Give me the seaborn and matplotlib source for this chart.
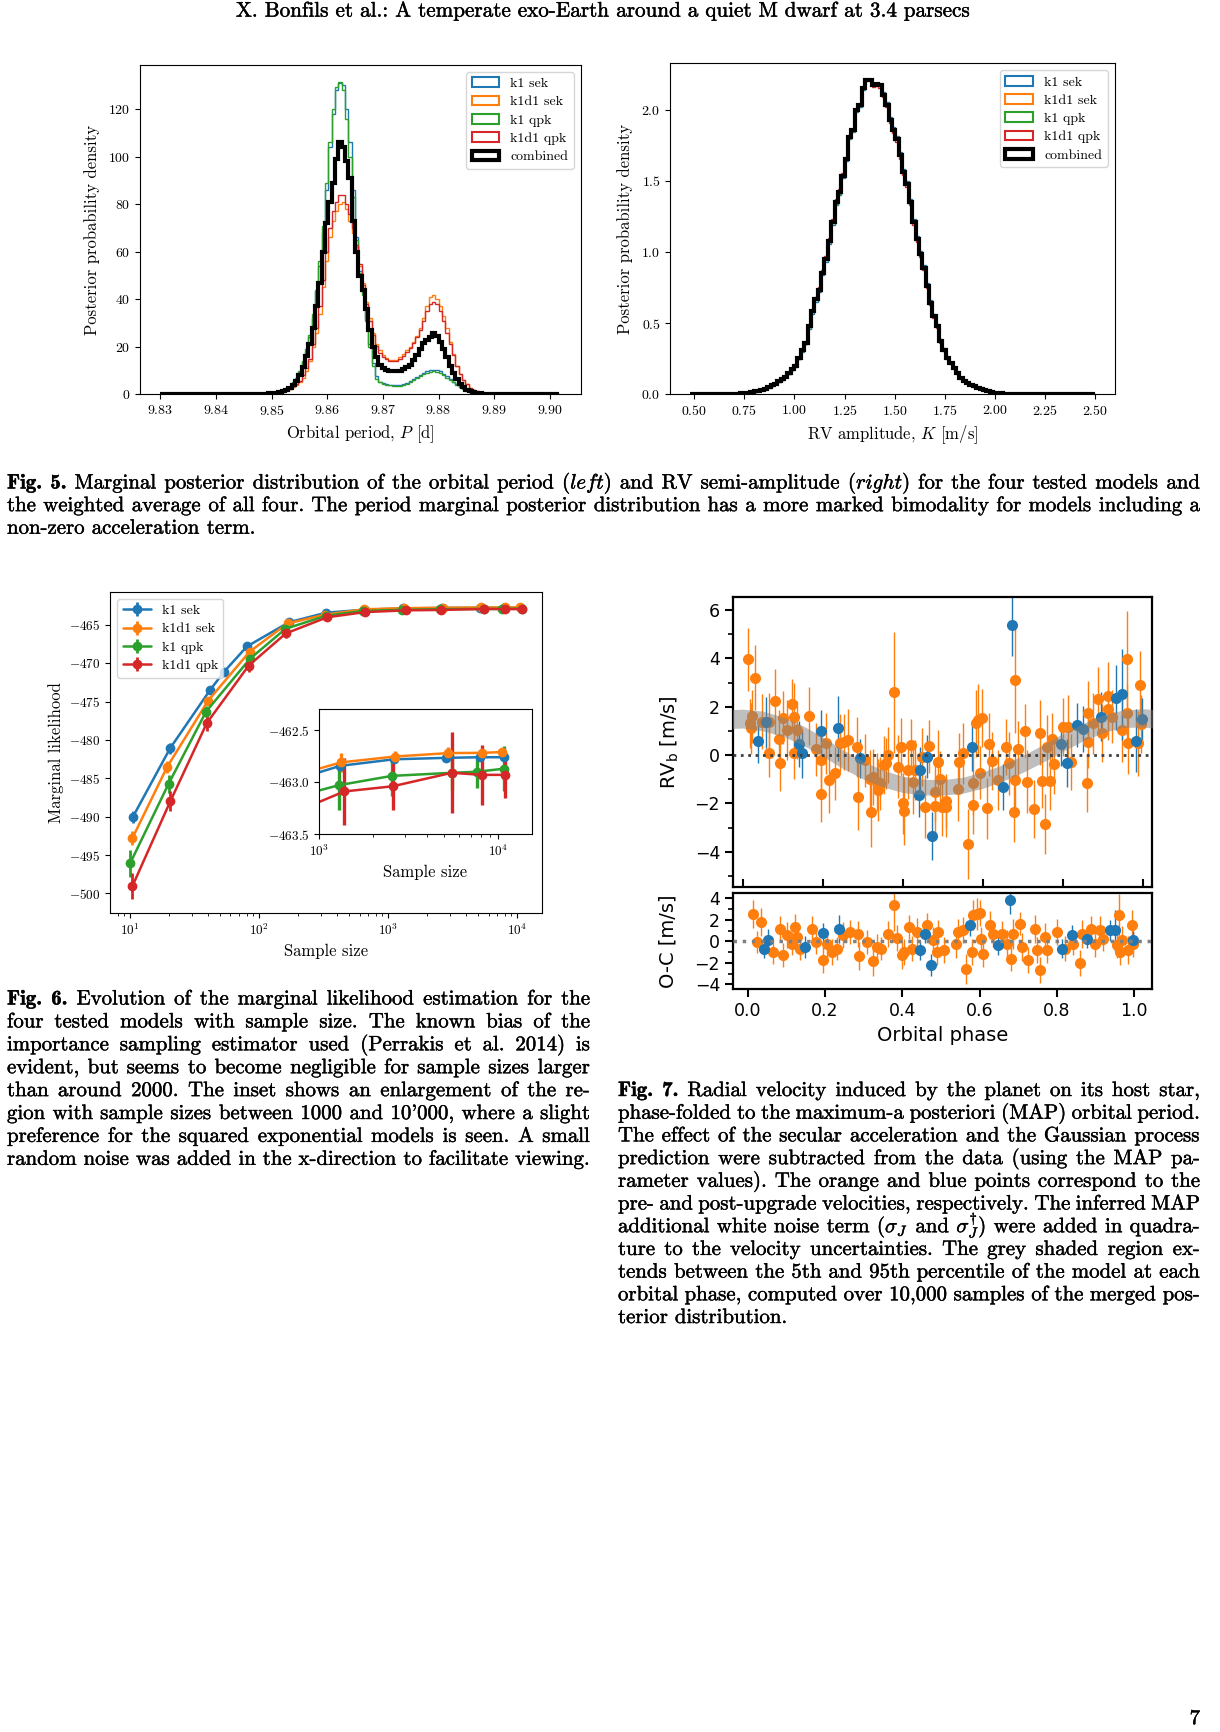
import numpy as np
import matplotlib
matplotlib.use("Agg")
import matplotlib.pyplot as plt
import matplotlib.patheffects as pe
import seaborn as sns
from matplotlib.patches import Patch
from matplotlib.ticker import MultipleLocator, ScalarFormatter

# ---------------- data : Fig. 5 (posterior histograms) ----------------
# orbital period bins: 0.0006 d wide starting at 9.8446, plus flat tails
p_core_start, p_width, p_nbins = 9.8446, 0.0006, 75
p_tail = (9.8300, 9.9017)

p_k1_sek = [0.05, 0.06, 0.08, 0.1, 0.13, 0.17, 0.22, 0.3, 0.4, 0.55, 0.7,
            0.9, 1.3, 2.0, 2.8, 4.5, 6.5, 9.5, 13.5, 18, 24, 32, 43, 54, 68, 86, 104, 118, 128, 131, 130,
            120, 106, 86, 66, 52, 43, 32, 21, 13, 7.5, 5.2, 4.6, 4.2, 4.0, 3.9, 3.9, 4.0, 4.3, 4.8, 5.5,
            6.3, 7.2, 8.1, 9.0, 9.7, 10.2, 10.4, 10.2, 9.6, 8.7, 7.6, 6.5, 5.3, 4.2, 3.2, 2.4, 1.6, 1.1,
            0.8, 0.5, 0.35, 0.25, 0.15, 0.1]
p_k1d1_sek = [0.05, 0.05, 0.06, 0.08, 0.1, 0.1, 0.15, 0.2, 0.3, 0.4, 0.55, 0.8, 1.1, 1.6, 2.2,
              3.0, 4.0, 5.0, 7, 10, 14, 20, 26, 34, 45, 56, 66, 73, 77, 80, 81, 78, 73, 68, 62, 54, 47,
              39, 32, 26, 21, 18.5, 16.5, 15.2, 14.6, 14.4, 14.5, 15.5, 17, 18.5, 20, 22, 24.5, 28, 32,
              37, 41, 42, 40, 37, 33, 28, 22, 17, 12, 8.5, 6, 4.2, 2.8, 1.9, 1.3, 0.9, 0.6, 0.4, 0.25]
p_k1_qpk = [0.05, 0.06, 0.08, 0.1, 0.13, 0.17, 0.22, 0.3, 0.4, 0.55, 0.7,
            1.0, 1.5, 2.2, 3, 5, 7, 10, 14, 19, 25, 34, 44, 56, 71, 89, 106, 120, 129.5, 131.6, 128,
            116, 100, 83, 65, 51, 42, 31, 20, 12, 6.5, 5, 4.5, 4.0, 3.8, 3.6, 3.6, 3.7, 4.0, 4.5, 5.2,
            6.0, 6.8, 7.6, 8.4, 9.0, 9.5, 9.6, 9.4, 8.8, 8.0, 7.0, 6.0, 5.0, 4.0, 3.0, 2.2, 1.5, 1.0,
            0.7, 0.5, 0.35, 0.25, 0.15, 0.1]
p_k1d1_qpk = [0.05, 0.05, 0.06, 0.08, 0.1, 0.1, 0.15, 0.2, 0.3, 0.4, 0.6, 0.9, 1.3, 1.8,
              2.4, 3.3, 4.4, 5.8, 8, 11, 15, 21, 28, 37, 48, 60, 70, 77, 81, 84, 84, 80, 76, 70, 63, 55,
              46, 38, 31, 25, 20.5, 17.5, 15.8, 14.8, 14.2, 14.0, 14.2, 15.0, 16.2, 17.8, 19.5, 21.5,
              24, 27, 31, 35, 38, 39, 38, 35, 31, 26, 21, 16.5, 12, 8.5, 6, 4.2, 2.8, 1.9, 1.3, 0.9,
              0.6, 0.4, 0.25]
p_combined = [0.05, 0.06, 0.08, 0.1, 0.13, 0.17, 0.22, 0.3, 0.4, 0.5, 0.65,
              0.8, 1.2, 1.8, 2.6, 4.0, 5.5, 8, 11.5, 16, 21, 28, 37, 47, 60, 72, 81, 89, 99, 106, 104,
              98, 91, 73, 60, 50, 44, 36, 27, 20, 15.5, 12.5, 11, 10.3, 9.9, 9.8, 9.8, 10.0, 10.5, 11.3,
              12.5, 14.5, 16.5, 19, 21.5, 23, 24, 26, 24.5, 22, 19, 15.5, 12, 9, 6.5, 4.5, 3.0, 2.0,
              1.3, 0.9, 0.6, 0.4, 0.3, 0.2, 0.1]

# RV amplitude bins: 0.0168 m/s wide starting at 0.6796, plus flat tails
k_core_start, k_width, k_nbins = 0.6796, 0.0168, 89
k_tail = (0.4817, 2.4958)

k_k1_sek = [0.001, 0.002, 0.003, 0.005, 0.007, 0.010, 0.013, 0.018, 0.023, 0.030,
            0.038, 0.047, 0.058, 0.071, 0.086, 0.101, 0.120, 0.142, 0.170, 0.195,
            0.245, 0.30, 0.35, 0.46, 0.565, 0.65, 0.72, 0.835, 0.93, 1.055,
            1.19, 1.33, 1.40, 1.52, 1.64, 1.79, 1.845, 1.985, 2.02, 2.14,
            2.20, 2.21, 2.18, 2.19, 2.18, 2.12, 2.05, 1.945, 1.875, 1.815,
            1.70, 1.585, 1.50, 1.37, 1.23, 1.11, 1.005, 0.91, 0.78, 0.66,
            0.565, 0.492, 0.385, 0.325, 0.264, 0.226, 0.192, 0.156, 0.118, 0.099,
            0.083, 0.069, 0.057, 0.047, 0.038, 0.029, 0.021, 0.016, 0.012, 0.009,
            0.007, 0.005, 0.004, 0.003, 0.002, 0.002, 0.001, 0.001, 0.001]
k_k1d1_sek = [0.002, 0.003, 0.004, 0.006, 0.009, 0.012, 0.016, 0.021, 0.026, 0.033,
              0.041, 0.051, 0.063, 0.077, 0.092, 0.107, 0.127, 0.150, 0.180, 0.205,
              0.258, 0.315, 0.365, 0.48, 0.59, 0.67, 0.74, 0.86, 0.955, 1.08,
              1.21, 1.35, 1.42, 1.54, 1.655, 1.80, 1.85, 1.99, 2.03, 2.15,
              2.205, 2.215, 2.175, 2.18, 2.165, 2.095, 2.025, 1.92, 1.85, 1.79,
              1.675, 1.555, 1.47, 1.345, 1.205, 1.085, 0.98, 0.885, 0.758, 0.64,
              0.546, 0.476, 0.37, 0.312, 0.253, 0.217, 0.184, 0.149, 0.112, 0.094,
              0.08, 0.066, 0.055, 0.045, 0.036, 0.028, 0.021, 0.016, 0.012, 0.009,
              0.007, 0.005, 0.004, 0.003, 0.003, 0.002, 0.002, 0.001, 0.001]
k_k1_qpk = [0.001, 0.002, 0.003, 0.005, 0.008, 0.011, 0.014, 0.019, 0.024, 0.031,
            0.039, 0.049, 0.060, 0.073, 0.088, 0.103, 0.122, 0.145, 0.174, 0.198,
            0.25, 0.305, 0.355, 0.47, 0.575, 0.66, 0.73, 0.845, 0.94, 1.07,
            1.20, 1.34, 1.41, 1.53, 1.645, 1.80, 1.85, 1.99, 2.025, 2.145,
            2.205, 2.21, 2.175, 2.185, 2.175, 2.11, 2.04, 1.935, 1.865, 1.805,
            1.69, 1.57, 1.49, 1.36, 1.22, 1.10, 0.995, 0.90, 0.77, 0.65,
            0.556, 0.485, 0.378, 0.318, 0.259, 0.222, 0.188, 0.153, 0.115, 0.097,
            0.081, 0.067, 0.056, 0.046, 0.037, 0.029, 0.021, 0.015, 0.011, 0.008,
            0.006, 0.005, 0.004, 0.003, 0.002, 0.002, 0.001, 0.001, 0.001]
k_k1d1_qpk = [0.002, 0.003, 0.005, 0.007, 0.010, 0.013, 0.017, 0.022, 0.028, 0.035,
              0.043, 0.054, 0.066, 0.080, 0.095, 0.110, 0.131, 0.155, 0.186, 0.212,
              0.265, 0.32, 0.375, 0.495, 0.60, 0.685, 0.755, 0.875, 0.97, 1.10,
              1.23, 1.37, 1.44, 1.555, 1.67, 1.82, 1.865, 2.005, 2.04, 2.155,
              2.21, 2.205, 2.16, 2.17, 2.155, 2.085, 2.015, 1.905, 1.835, 1.775,
              1.655, 1.54, 1.455, 1.33, 1.19, 1.07, 0.965, 0.872, 0.745, 0.628,
              0.535, 0.466, 0.362, 0.305, 0.247, 0.212, 0.18, 0.146, 0.11, 0.092,
              0.078, 0.064, 0.054, 0.044, 0.035, 0.027, 0.02, 0.015, 0.011, 0.008,
              0.006, 0.005, 0.004, 0.003, 0.002, 0.002, 0.001, 0.001, 0.001]
k_combined = [0.001, 0.002, 0.004, 0.006, 0.008, 0.011, 0.015, 0.02, 0.025, 0.032,
              0.04, 0.05, 0.062, 0.075, 0.09, 0.105, 0.125, 0.148, 0.178, 0.20,
              0.255, 0.31, 0.36, 0.477, 0.583, 0.666, 0.736, 0.854, 0.948, 1.077,
              1.207, 1.348, 1.419, 1.536, 1.654, 1.807, 1.854, 1.995, 2.03, 2.148,
              2.207, 2.21, 2.17, 2.18, 2.17, 2.10, 2.03, 1.925, 1.854, 1.795,
              1.678, 1.56, 1.477, 1.348, 1.208, 1.09, 0.984, 0.89, 0.76, 0.642,
              0.548, 0.478, 0.372, 0.313, 0.254, 0.218, 0.185, 0.15, 0.113, 0.095,
              0.08, 0.066, 0.055, 0.045, 0.036, 0.028, 0.02, 0.015, 0.011, 0.008,
              0.006, 0.005, 0.004, 0.003, 0.002, 0.002, 0.001, 0.001, 0.001]

models = ["k1 sek", "k1d1 sek", "k1 qpk", "k1d1 qpk", "combined"]
model_colors = ["#1f77b4", "#ff7f0e", "#2ca02c", "#d62728", "black"]

# ---------------- data : Fig. 6 (marginal likelihood vs sample size) ----------------
ml_k1_sek_n = [10.5, 20.4, 41.6, 53.5, 80.5, 170, 330, 660, 1310, 2610, 5100, 7900, 10760]
ml_k1_sek = [-490.05, -481.1, -473.5, -471.1, -467.8, -464.65, -463.4, -463.0, -462.843, -462.78,
             -462.766, -462.76, -462.76]
ml_k1_sek_err = [0.75, 0.7, 0.4, 0.3, 0.3, 0.2, 0.1, 0.05, 0.03, 0.02, 0.02, 0.015, 0.015]

ml_k1d1_sek_n = [10.4, 19.4, 40.3, 84.5, 166, 325, 650, 1322, 2650, 5260, 8070, 10450]
ml_k1d1_sek = [-492.83, -483.5, -474.86, -468.47, -464.8, -463.65, -462.96, -462.81, -462.753,
               -462.72, -462.718, -462.71]
ml_k1d1_sek_err = [0.9, 0.75, 0.5, 0.4, 0.25, 0.15, 0.1, 0.09, 0.05, 0.06, 0.04, 0.03]

ml_k1_qpk_n = [10.0, 19.9, 38.8, 85, 160, 330, 640, 1282, 2535, 5500, 7590, 10800]
ml_k1_qpk = [-496.1, -485.7, -476.3, -469.4, -465.5, -463.8, -463.17, -463.03, -462.94, -462.91,
             -462.90, -462.87]
ml_k1_qpk_err = [1.8, 1.2, 0.7, 0.5, 0.3, 0.2, 0.15, 0.24, 0.19, 0.17, 0.16, 0.22]

ml_k1d1_qpk_n = [10.4, 20.5, 39.3, 83, 161, 336, 660, 1379, 2570, 5500, 8070, 10880]
ml_k1d1_qpk = [-499.1, -488.0, -477.8, -470.3, -466.1, -464.0, -463.32, -463.09, -463.04, -462.91,
               -462.93, -462.93]
ml_k1d1_qpk_err = [1.7, 1.3, 1.0, 0.8, 0.6, 0.4, 0.25, 0.32, 0.23, 0.39, 0.29, 0.22]

# ---------------- data : Fig. 7 (phase-folded RVs) ----------------
pre_phase = [0.0125, 0.032, 0.018, 0.024, 0.021, 0.067, 0.067, 0.081, 0.093, 0.092, 0.102, 0.110,
             0.1225, 0.128, 0.128, 0.137, 0.0475, 0.167, 0.1825, 0.195, 0.195, 0.2075, 0.217, 0.231,
             0.243, 0.253, 0.264, 0.285, 0.289, 0.306, 0.318, 0.320, 0.327, 0.337, 0.339, 0.343,
             0.353, 0.358, 0.364, 0.379, 0.3875, 0.396, 0.402, 0.403, 0.414, 0.420, 0.427, 0.432,
             0.4475, 0.456, 0.467, 0.481, 0.481, 0.489, 0.493, 0.4975, 0.508, 0.508, 0.539, 0.5417,
             0.552, 0.564, 0.577, 0.5767, 0.583, 0.589, 0.5975, 0.593, 0.610, 0.6158, 0.6225, 0.639,
             0.658, 0.667, 0.681, 0.678, 0.681, 0.6875, 0.706, 0.710, 0.728, 0.743, 0.7475, 0.756,
             0.760, 0.768, 0.7725, 0.778, 0.800, 0.814, 0.820, 0.860, 0.864, 0.864, 0.8767, 0.889,
             0.8975, 0.914, 0.914, 0.9225, 0.9475, 0.960, 0.960, 0.964, 0.9875, 0.993, 0.995]
pre_rv = [3.97, 3.21, 1.31, 1.61, 1.10, 1.35, 0.10, 2.23, -0.34, 0.65, 1.54, 1.03,
          2.10, 1.59, 0.10, 1.03, 1.38, 1.61, 0.23, -0.21, -1.61, 0.48, -1.03, -0.76,
          0.48, 0.55, 0.62, 0.34, -1.72, -0.21, -1.01, -2.34, -0.90, -1.10, -1.45, -1.17,
          -0.41, -0.34, 0.00, 2.59, -0.48, 0.34, -2.00, -2.32, -0.62, 0.41, -1.10, -0.62,
          -0.07, -2.14, 0.37, -1.52, -2.11, -0.28, -0.99, -2.14, -1.90, -2.14, -1.42, -0.28,
          0.07, -3.70, -1.17, -2.07, 1.31, 1.45, 1.52, -0.73, -2.21, 0.45, -0.23, -1.03,
          0.34, -0.34, 3.10, -2.34, -1.03, 0.23, 1.00, -1.10, -2.25, 0.92, -1.06, -2.86,
          0.34, -1.06, 0.66, -0.37, 1.17, 1.17, -0.28, -1.14, 1.75, 0.55, 1.31, 2.30,
          0.90, 2.44, 1.89, 1.59, 1.03, 3.96, 1.75, 0.48, 0.48, 2.90, 1.28]
pre_err = [1.30, 1.35, 1.00, 1.10, 1.05, 1.20, 1.00, 1.35, 1.15, 1.20, 1.10, 1.25,
           1.05, 1.40, 1.10, 1.20, 1.15, 1.20, 1.10, 1.30, 1.15, 1.25, 1.35, 1.10,
           1.20, 1.15, 1.30, 1.25, 1.40, 1.10, 1.20, 1.45, 1.15, 1.20, 1.30, 1.10,
           1.20, 1.05, 1.15, 2.50, 1.30, 1.20, 1.25, 1.40, 1.20, 1.10, 1.35, 1.25,
           1.20, 1.30, 1.10, 1.25, 1.20, 1.30, 1.15, 1.20, 1.10, 1.25, 1.30, 1.20,
           1.25, 1.45, 1.30, 1.20, 1.40, 1.50, 1.20, 1.10, 1.25, 1.30, 1.20, 1.25,
           1.15, 1.30, 2.20, 1.25, 1.40, 1.20, 1.10, 1.30, 1.20, 1.35, 1.15, 1.25,
           1.30, 1.20, 1.10, 1.25, 1.20, 1.30, 1.15, 1.20, 1.30, 1.10, 1.25, 1.35,
           1.20, 1.40, 1.25, 1.10, 1.30, 2.00, 1.20, 1.25, 1.35, 1.40, 1.20]

post_phase = [0.039, 0.058, 0.1475, 0.142, 0.196, 0.2375, 0.293, 0.442, 0.443, 0.460, 0.474, 0.5725,
              0.6517, 0.6725, 0.795, 0.810, 0.8367, 0.8517, 0.895, 0.933, 0.948, 0.983, 0.9975]
post_rv = [0.59, 1.35, 0.07, 0.45, 0.98, 1.10, -0.14, -1.66, -0.62, -0.07, -3.34, 0.34,
           -1.31, 5.38, 0.45, -0.32, 1.24, 1.06, 1.59, 2.37, 2.51, 0.59, 1.48]
post_err = [0.90, 1.05, 1.00, 0.95, 0.90, 1.35, 0.80, 0.90, 0.95, 0.90, 1.00, 1.00,
            0.95, 1.30, 0.90, 1.00, 0.90, 0.95, 1.00, 1.35, 1.90, 1.30, 0.90]

# grey band: 5th and 95th percentile of the model
band_phase = [-0.05, 0.00, 0.05, 0.10, 0.15, 0.20, 0.25, 0.30, 0.35, 0.40, 0.45, 0.50, 0.55,
              0.60, 0.65, 0.70, 0.75, 0.80, 0.85, 0.90, 0.95, 1.00, 1.05]
band_hi = [1.86, 1.90, 1.82, 1.58, 1.22, 0.75, 0.22, -0.25, -0.62, -0.88, -1.00, -1.02, -0.92,
           -0.70, -0.40, -0.02, 0.42, 0.88, 1.30, 1.65, 1.86, 1.92, 1.86]
band_lo = [1.08, 1.12, 1.00, 0.78, 0.42, -0.05, -0.55, -0.98, -1.32, -1.55, -1.65, -1.66, -1.58,
           -1.38, -1.08, -0.72, -0.30, 0.15, 0.58, 0.92, 1.14, 1.16, 1.08]

# residuals (O-C)
pre_oc_phase = [0.015, 0.034, 0.023, 0.066, 0.084, 0.092, 0.101, 0.114, 0.122, 0.127, 0.135, 0.1655,
                0.178, 0.194, 0.206, 0.217, 0.232, 0.247, 0.265, 0.286, 0.289, 0.308, 0.323, 0.335,
                0.344, 0.364, 0.379, 0.387, 0.400, 0.404, 0.418, 0.424, 0.437, 0.465, 0.480, 0.489,
                0.493, 0.508, 0.539, 0.545, 0.556, 0.565, 0.579, 0.584, 0.594, 0.601, 0.603, 0.609,
                0.627, 0.635, 0.657, 0.670, 0.680, 0.687, 0.704, 0.709, 0.726, 0.743, 0.749, 0.756,
                0.769, 0.775, 0.799, 0.821, 0.842, 0.859, 0.864, 0.887, 0.898, 0.911, 0.920, 0.954,
                0.961, 0.963, 0.967, 0.984, 0.993, 0.997]
pre_oc = [2.57, 1.80, -0.06, -0.99, 1.18, -1.30, 0.56, -0.22, 1.33, 0.40, -0.68, 1.18,
          -0.06, -1.77, -0.22, -0.99, -0.68, 0.56, 0.87, 0.71, -1.40, -0.06, -1.83, -0.53,
          -0.68, 0.71, 3.35, 0.34, -1.30, -0.99, 1.33, -0.68, 0.87, 1.49, 0.09, -0.99,
          0.87, -0.84, -0.22, 0.87, 1.02, -2.54, -0.99, 2.42, 2.57, 2.64, 0.25, -1.15,
          1.49, 0.71, 0.71, -0.22, -1.61, 0.71, 1.64, -0.53, -1.77, 1.18, -0.84, -2.70,
          0.40, -0.84, 0.87, -0.68, -0.22, -2.02, 0.71, 1.18, -0.22, 1.02, 0.25, -0.37,
          2.42, -0.99, 0.09, -0.84, 1.49, -0.22]
pre_oc_err = [1.3, 1.3, 1.0, 1.1, 1.2, 1.1, 1.2, 1.1, 1.2, 1.3, 1.1, 1.2,
              1.1, 1.2, 1.3, 1.2, 1.1, 1.2, 1.1, 1.2, 1.3, 1.1, 1.4, 1.2,
              1.1, 1.2, 2.4, 1.2, 1.3, 1.2, 1.1, 1.2, 1.3, 1.1, 1.2, 1.2,
              1.1, 1.2, 1.3, 1.2, 1.2, 1.4, 1.2, 1.4, 1.5, 1.2, 1.1, 1.2,
              1.3, 1.2, 1.2, 1.3, 1.2, 1.4, 1.1, 1.3, 1.2, 1.3, 1.2, 1.2,
              1.3, 1.2, 1.2, 1.2, 1.1, 1.2, 1.3, 1.2, 1.2, 1.3, 1.2, 1.2,
              2.0, 1.2, 1.3, 1.3, 1.4, 1.2]
post_oc_phase = [0.042, 0.053, 0.148, 0.196, 0.237, 0.447, 0.459, 0.473, 0.575, 0.648, 0.678, 0.812,
                 0.838, 0.877, 0.937, 0.950, 0.996]
post_oc = [-0.68, 0.16, -0.53, 0.78, 1.18, -0.84, 0.71, -2.23, 1.49, -0.37, 3.88, -0.68,
           0.56, 0.25, 1.02, 1.02, 0.09]
post_oc_err = [0.9, 1.0, 1.0, 0.9, 1.3, 0.9, 0.9, 1.0, 1.0, 0.9, 1.3, 0.9, 1.0, 0.9, 1.0, 1.9, 0.9]

# ---------------- page text ----------------
header = "X. Bonfils et al.: A temperate exo-Earth around a quiet M dwarf at 3.4 parsecs"
cap5 = [r"Fig. 5. Marginal posterior distribution of the orbital period ($\mathit{left}$) and RV semi-amplitude ($\mathit{right}$) for the four tested models and",
        "the weighted average of all four. The period marginal posterior distribution has a more marked bimodality for models including a",
        "non-zero acceleration term."]
cap6 = ["Fig. 6. Evolution of the marginal likelihood estimation for the",
        "four tested models with sample size. The known bias of the",
        "importance sampling estimator used (Perrakis et al. 2014) is",
        "evident, but seems to become negligible for sample sizes larger",
        "than around 2000. The inset shows an enlargement of the re-",
        "gion with sample sizes between 1000 and 10'000, where a slight",
        "preference for the squared exponential models is seen. A small",
        "random noise was added in the x-direction to facilitate viewing."]
cap7 = ["Fig. 7. Radial velocity induced by the planet on its host star,",
        "phase-folded to the maximum-a posteriori (MAP) orbital period.",
        "The effect of the secular acceleration and the Gaussian process",
        "prediction were subtracted from the data (using the MAP pa-",
        "rameter values). The orange and blue points correspond to the",
        "pre- and post-upgrade velocities, respectively. The inferred MAP",
        r"additional white noise term ($\sigma_J$ and $\sigma_J^{\dagger}$) were added in quadra-",
        "ture to the velocity uncertainties. The grey shaded region ex-",
        "tends between the 5th and 95th percentile of the model at each",
        "orbital phase, computed over 10,000 samples of the merged pos-",
        "terior distribution."]

# ---------------- style ----------------
sns.set_style("ticks", {"axes.edgecolor": "black", "xtick.color": "black", "ytick.color": "black",
                        "text.color": "black", "axes.labelcolor": "black"})
plt.rcParams["font.family"] = ["cmr10"]
plt.rcParams["mathtext.fontset"] = "cm"
plt.rcParams["axes.formatter.use_mathtext"] = True
plt.rcParams["axes.linewidth"] = 0.8

W, H = 1220, 1732
fig = plt.figure(figsize=(W / 100, H / 100), dpi=100)
fig.patch.set_facecolor("white")


def box(x0, y0, x1, y1):
    # pixel box (top-left origin) -> figure fraction
    return [x0 / W, 1 - y1 / H, (x1 - x0) / W, (y1 - y0) / H]


# ---------------- Fig. 5 ----------------
p_edges = np.r_[p_tail[0], np.round(p_core_start + p_width * np.arange(p_nbins + 1), 5), p_tail[1]]
k_edges = np.r_[k_tail[0], np.round(k_core_start + k_width * np.arange(k_nbins + 1), 5), k_tail[1]]

ax5a = fig.add_axes(box(140.3, 65, 581, 394.3))
for vals, c in zip([p_k1_sek, p_k1d1_sek, p_k1_qpk, p_k1d1_qpk, p_combined], model_colors):
    ax5a.stairs(np.r_[0, vals, 0], p_edges, color=c, linewidth=3.0 if c == "black" else 1.0)
ax5a.set_xlim(9.8264, 9.9056)
ax5a.set_ylim(0, 138.6)
ax5a.xaxis.set_major_locator(MultipleLocator(0.01))
ax5a.yaxis.set_major_locator(MultipleLocator(20))
ax5a.ticklabel_format(useOffset=False)
ax5a.set_xlabel(r"Orbital period, $P$ [d]", fontsize=12)
ax5a.set_ylabel("Posterior probability density", fontsize=12, labelpad=6)

ax5b = fig.add_axes(box(670.3, 63.3, 1114.7, 394.3))
for vals, c in zip([k_k1_sek, k_k1d1_sek, k_k1_qpk, k_k1d1_qpk, k_combined], model_colors):
    ax5b.stairs(np.r_[0, vals, 0], k_edges, color=c, linewidth=3.0 if c == "black" else 1.0)
ax5b.set_xlim(0.382, 2.596)
ax5b.set_ylim(0, 2.325)
ax5b.xaxis.set_major_locator(MultipleLocator(0.25))
ax5b.yaxis.set_major_locator(MultipleLocator(0.5))
ax5b.set_xlabel(r"RV amplitude, $K$ [m/s]", fontsize=12)
ax5b.set_ylabel("Posterior probability density", fontsize=12, labelpad=6)

for ax in (ax5a, ax5b):
    ax.tick_params(labelsize=10, length=3.5, width=0.8)
    handles = [Patch(facecolor="none", edgecolor=c, linewidth=3.0 if c == "black" else 1.5)
               for c in model_colors]
    ax.legend(handles, models, loc="upper right", fontsize=10, labelspacing=0.4, frameon=True)

# ---------------- Fig. 6 ----------------
ml_series = [(ml_k1_sek_n, ml_k1_sek, ml_k1_sek_err, "k1 sek"),
             (ml_k1d1_sek_n, ml_k1d1_sek, ml_k1d1_sek_err, "k1d1 sek"),
             (ml_k1_qpk_n, ml_k1_qpk, ml_k1_qpk_err, "k1 qpk"),
             (ml_k1d1_qpk_n, ml_k1d1_qpk, ml_k1d1_qpk_err, "k1d1 qpk")]

ax6 = fig.add_axes(box(110.3, 592, 542.3, 913.3))
ax6in = fig.add_axes(box(319.3, 709.3, 531.7, 834))
for (n, y, e, lab), c in zip(ml_series, model_colors):
    ax6.errorbar(n, y, yerr=e, color=c, marker="o", ms=6, lw=1.8, elinewidth=2, capsize=0, label=lab)
    ax6in.errorbar(n, y, yerr=e, color=c, marker="o", ms=6, lw=1.8, elinewidth=2.4, capsize=0)
ax6.set_xscale("log")
ax6.set_xlim(7.03, 15630)
ax6.set_ylim(-502.6, -460.7)
ax6.yaxis.set_major_locator(MultipleLocator(5))
ax6.set_xlabel("Sample size", fontsize=12)
ax6.set_ylabel("Marginal likelihood", fontsize=12)
ax6.tick_params(labelsize=9.5)
ax6.tick_params(which="minor", length=2)
ax6.legend(loc="upper left", fontsize=10, labelspacing=0.4)

ax6in.set_xscale("log")
ax6in.set_xlim(1000, 15350)
ax6in.set_ylim(-463.5, -462.298)
ax6in.yaxis.set_major_locator(MultipleLocator(0.5))
ax6in.ticklabel_format(axis="y", useOffset=False)
ax6in.set_xlabel("Sample size", fontsize=12)
ax6in.tick_params(labelsize=9.5)
ax6in.tick_params(which="minor", length=2)

# ---------------- Fig. 7 ----------------
ax7 = fig.add_axes(box(733.3, 597.3, 1151.7, 886.7))
ax7r = fig.add_axes(box(733.3, 892.7, 1151.7, 989))

ax7.errorbar(pre_phase, pre_rv, yerr=pre_err, fmt="o", color="#ff7f0e", ms=7, elinewidth=1, capsize=0, zorder=2)
ax7.errorbar(post_phase, post_rv, yerr=post_err, fmt="o", color="#1f77b4", ms=7, elinewidth=1, capsize=0, zorder=2)
ax7.fill_between(band_phase, band_lo, band_hi, color="grey", alpha=0.5, lw=0, zorder=3)
ax7.axhline(0, ls=":", color="0.25", lw=2, zorder=4)
ax7.set_xlim(-0.0233, 1.0225)
ax7.set_ylim(-5.45, 6.53)
ax7.xaxis.set_major_locator(MultipleLocator(0.2))
ax7.yaxis.set_major_locator(MultipleLocator(2))
ax7.yaxis.set_minor_locator(MultipleLocator(1))
ax7.tick_params(axis="x", direction="in", length=6, width=1.5, labelbottom=False)
ax7.set_ylabel(r"RV$_\mathrm{b}$ [m/s]", fontsize=14, family="DejaVu Sans", math_fontfamily="dejavusans",
               labelpad=10)

ax7r.errorbar(pre_oc_phase, pre_oc, yerr=pre_oc_err, fmt="o", color="#ff7f0e", ms=7, elinewidth=1, capsize=0, zorder=2)
ax7r.errorbar(post_oc_phase, post_oc, yerr=post_oc_err, fmt="o", color="#1f77b4", ms=7, elinewidth=1, capsize=0, zorder=2)
ax7r.axhline(0, ls=":", color="0.5", lw=2.5, zorder=4)
ax7r.set_xlim(-0.037, 1.045)
ax7r.set_ylim(-4.44, 4.52)
ax7r.xaxis.set_major_locator(MultipleLocator(0.2))
ax7r.yaxis.set_major_locator(MultipleLocator(2))
ax7r.yaxis.set_minor_locator(MultipleLocator(1))
ax7r.tick_params(axis="x", direction="out", length=6, width=1.5)
ax7r.set_xlabel("Orbital phase", fontsize=14, family="DejaVu Sans")
ax7r.set_ylabel("O-C [m/s]", fontsize=14, family="DejaVu Sans", labelpad=12)

for ax in (ax7, ax7r):
    for s in ax.spines.values():
        s.set_linewidth(1.6)
    ax.xaxis.set_major_formatter(ScalarFormatter(useMathText=False))
    ax.yaxis.set_major_formatter(ScalarFormatter(useMathText=False))
    ax.tick_params(labelsize=12.5, labelfontfamily="DejaVu Sans")
    ax.tick_params(axis="y", which="major", length=6, width=1.5)
    ax.tick_params(axis="y", which="minor", length=3.5, width=1.2)

# ---------------- captions ----------------
renderer = fig.canvas.get_renderer()
px_per_pt = 100 / 72
space_em = 0.333
ink = [pe.withStroke(linewidth=0.3, foreground="black")]


def words_width(line, size, bold_lead=False):
    total = 0.0
    for i, w in enumerate(line.split(" ")):
        fam = "cmb10" if (bold_lead and i < 2) else "cmr10"
        t = fig.text(0, 0, w, fontsize=size, family=fam)
        total += t.get_window_extent(renderer).width
        t.remove()
    return total


def fit_size(line, target):
    # font size so that the words plus normal inter-word spaces fill target pixels
    n_sp = line.count(" ")
    w10 = words_width(line, 10)
    return target / (w10 / 10 + n_sp * space_em * px_per_pt)


cap_size = fit_size(cap6[-1], 582)
head_size = fit_size(header, 734)


def put_line(line, x0, x1, y, size, justify, bold_lead=False):
    words = line.split(" ")
    arts = []
    for i, w in enumerate(words):
        fam = "cmb10" if (bold_lead and i < 2) else "cmr10"
        arts.append(fig.text(0, 1 - y / H, w, fontsize=size, family=fam, va="baseline", ha="left",
                             path_effects=ink))
    widths = [a.get_window_extent(renderer).width for a in arts]
    if justify and len(arts) > 1:
        gap = (x1 - x0 - sum(widths)) / (len(arts) - 1)
    else:
        gap = space_em * size * px_per_pt
    x = x0
    for a, w in zip(arts, widths):
        a.set_x(x / W)
        x += w + gap


def put_caption(lines, x0, x1, y0, dy):
    for i, line in enumerate(lines):
        put_line(line, x0, x1, y0 + i * dy, cap_size, justify=(i < len(lines) - 1), bold_lead=(i == 0))


put_line(header, 236, 970, 16.6, head_size, justify=True)
put_caption(cap5, 7, 1200, 488.5, 22.6)
put_caption(cap6, 7, 590, 1004.5, 22.9)
put_caption(cap7, 618, 1200, 1096, 22.7)
fig.text(1200 / W, 1 - 1724 / H, "7", fontsize=cap_size, ha="right", va="baseline", path_effects=ink)

fig.savefig("out.png", dpi=100, facecolor="white")
